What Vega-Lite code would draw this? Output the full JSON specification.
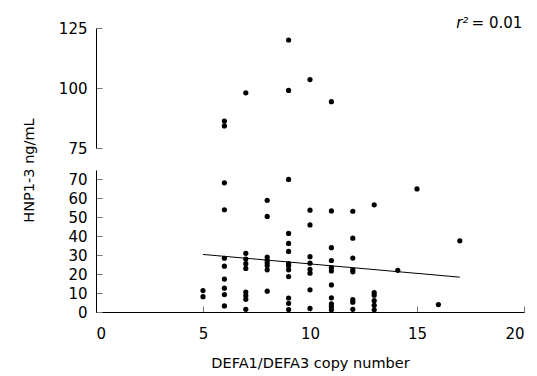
{
  "$schema": "https://vega.github.io/schema/vega-lite/v6.json",
  "padding": {"left": 21, "top": 15, "right": 10, "bottom": 5},
  "background": "white",
  "config": {
    "view": {"stroke": null},
    "font": "DejaVu Sans",
    "axis": {
      "grid": false,
      "domainColor": "#000",
      "domainWidth": 1,
      "tickColor": "#777",
      "tickSize": -6,
      "labelOverlap": false,
      "labelFont": "DejaVu Sans",
      "labelFontSize": 15,
      "labelColor": "#000",
      "titleFont": "DejaVu Sans",
      "titleFontSize": 14.5,
      "titleFontWeight": "normal",
      "titleColor": "#000"
    }
  },
  "datasets": {
    "pts": [
      {"x": 5, "y": 11.3}, {"x": 5, "y": 8.1},
      {"x": 6, "y": 86.2}, {"x": 6, "y": 84.2}, {"x": 6, "y": 68.2}, {"x": 6, "y": 54}, {"x": 6, "y": 28.4}, {"x": 6, "y": 24.2}, {"x": 6, "y": 17.4}, {"x": 6, "y": 12.6}, {"x": 6, "y": 9.2}, {"x": 6, "y": 3.2},
      {"x": 7, "y": 98}, {"x": 7, "y": 31}, {"x": 7, "y": 28}, {"x": 7, "y": 25.5}, {"x": 7, "y": 23}, {"x": 7, "y": 10.5}, {"x": 7, "y": 8.6}, {"x": 7, "y": 6.7}, {"x": 7, "y": 1.4},
      {"x": 8, "y": 59}, {"x": 8, "y": 50.5}, {"x": 8, "y": 29}, {"x": 8, "y": 27.3}, {"x": 8, "y": 26}, {"x": 8, "y": 24.5}, {"x": 8, "y": 22.3}, {"x": 8, "y": 11},
      {"x": 9, "y": 120}, {"x": 9, "y": 99}, {"x": 9, "y": 70}, {"x": 9, "y": 41.5}, {"x": 9, "y": 36.2}, {"x": 9, "y": 32}, {"x": 9, "y": 25.5}, {"x": 9, "y": 24.4}, {"x": 9, "y": 22.3}, {"x": 9, "y": 18.7}, {"x": 9, "y": 7.4}, {"x": 9, "y": 4.6}, {"x": 9, "y": 1.3},
      {"x": 10, "y": 103.5}, {"x": 10, "y": 53.8}, {"x": 10, "y": 46}, {"x": 10, "y": 29.2}, {"x": 10, "y": 25.8}, {"x": 10, "y": 22.5}, {"x": 10, "y": 20.5}, {"x": 10, "y": 11.7}, {"x": 10, "y": 1.9},
      {"x": 11, "y": 94.3}, {"x": 11, "y": 53.4}, {"x": 11, "y": 34}, {"x": 11, "y": 27.2}, {"x": 11, "y": 23.5}, {"x": 11, "y": 21.7}, {"x": 11, "y": 14.3}, {"x": 11, "y": 7.5}, {"x": 11, "y": 4.3}, {"x": 11, "y": 2.8}, {"x": 11, "y": 1.2},
      {"x": 12, "y": 53.2}, {"x": 12, "y": 39}, {"x": 12, "y": 28.5}, {"x": 12, "y": 22.3}, {"x": 12, "y": 21.2}, {"x": 12, "y": 6.5}, {"x": 12, "y": 5.2}, {"x": 12, "y": 1.4},
      {"x": 13, "y": 56.6}, {"x": 13, "y": 10.3}, {"x": 13, "y": 8.9}, {"x": 13, "y": 6}, {"x": 13, "y": 3.5}, {"x": 13, "y": 1.2},
      {"x": 14.1, "y": 22}, {"x": 15, "y": 65}, {"x": 16, "y": 3.9}, {"x": 17, "y": 37.6}
    ],
    "fit": [{"x": 5, "y": 30.4}, {"x": 17, "y": 18.4}]
  },
  "vconcat": [
    {
      "width": 428,
      "height": 120,
      "layer": [
        {
          "data": {"name": "pts"},
          "transform": [{"filter": "datum.y >= 75"}],
          "mark": {"type": "circle", "size": 27, "color": "#000", "opacity": 1},
          "encoding": {
            "x": {"field": "x", "type": "quantitative", "scale": {"domain": [0, 20], "nice": false}, "axis": null},
            "y": {"field": "y", "type": "quantitative", "scale": {"domain": [75, 125], "nice": false, "zero": false},
              "axis": {"title": null, "values": [75, 100, 125], "labelPadding": 15, "labelOverlap": false}}
          }
        },
        {
          "data": {"values": [{}]},
          "mark": {"type": "text", "align": "right", "baseline": "middle", "fontStyle": "italic", "fontSize": 15, "font": "DejaVu Sans", "color": "#000"},
          "encoding": {
            "x": {"datum": 17.4, "type": "quantitative"},
            "y": {"datum": 127.2, "type": "quantitative"},
            "text": {"value": "r²"}
          }
        },
        {
          "data": {"values": [{}]},
          "mark": {"type": "text", "align": "left", "baseline": "middle", "fontSize": 15, "font": "DejaVu Sans", "color": "#000"},
          "encoding": {
            "x": {"datum": 17.55, "type": "quantitative"},
            "y": {"datum": 127.2, "type": "quantitative"},
            "text": {"value": "= 0.01"}
          }
        }
      ]
    },
    {
      "width": 428,
      "height": 142,
      "encoding": {
        "x": {"field": "x", "type": "quantitative", "scale": {"domain": [0, 20], "nice": false},
          "axis": {"title": "DEFA1/DEFA3 copy number", "values": [0, 5, 10, 15, 20], "labelPadding": 20, "titlePadding": 15, "labelOverlap": false}},
        "y": {"field": "y", "type": "quantitative", "scale": {"domain": [0, 75], "nice": false},
          "axis": {"title": "HNP1-3 ng/mL", "values": [0, 10, 20, 30, 40, 50, 60, 70], "labelPadding": 15, "labelOverlap": false,
            "titleX": -67, "titleY": 0, "titleAngle": -90, "titleAlign": "center", "titleBaseline": "middle"}}
      },
      "layer": [
        {
          "data": {"name": "pts"},
          "transform": [{"filter": "datum.y < 75"}],
          "mark": {"type": "circle", "size": 27, "color": "#000", "opacity": 1}
        },
        {
          "data": {"name": "fit"},
          "mark": {"type": "line", "color": "#000", "strokeWidth": 1}
        }
      ]
    }
  ],
  "spacing": 22,
  "bounds": "flush"
}
